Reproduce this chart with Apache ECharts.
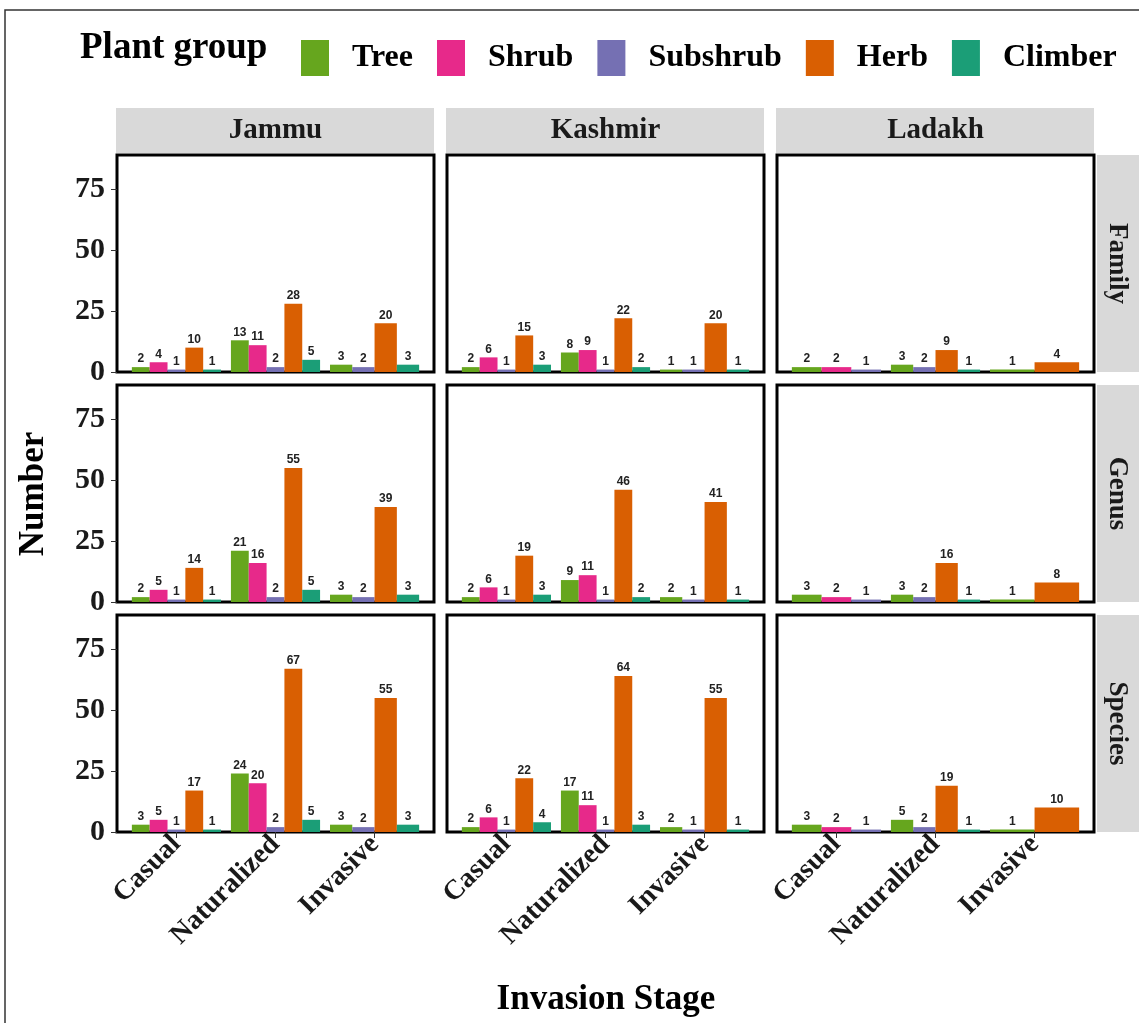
<!DOCTYPE html>
<html>
<head>
<meta charset="utf-8">
<script src="https://cdn.jsdelivr.net/npm/echarts@6/dist/echarts.min.js"></script>
<style>
html,body{margin:0;padding:0;background:#fff;}
#main{width:1139px;height:1023px;}
</style>
</head>
<body>
<div id="main"></div>
<script>
var stages = ['Casual', 'Naturalized', 'Invasive'];
var regions = ['Jammu', 'Kashmir', 'Ladakh'];
var levels = ['Family', 'Genus', 'Species'];
var groups = ['Tree', 'Shrub', 'Subshrub', 'Herb', 'Climber'];
var colors = ['#66A61E', '#E7298A', '#7570B3', '#D95F02', '#1B9E77'];
var yTicks = [0, 25, 50, 75];

// one row per stage (Casual, Naturalized, Invasive), one column per group; null = no bar
var familyJammu   = [[2, 4, 1, 10, 1], [13, 11, 2, 28, 5], [3, null, 2, 20, 3]];
var familyKashmir = [[2, 6, 1, 15, 3], [8, 9, 1, 22, 2], [1, null, 1, 20, 1]];
var familyLadakh  = [[2, 2, 1, null, null], [3, null, 2, 9, 1], [1, null, null, 4, null]];
var genusJammu    = [[2, 5, 1, 14, 1], [21, 16, 2, 55, 5], [3, null, 2, 39, 3]];
var genusKashmir  = [[2, 6, 1, 19, 3], [9, 11, 1, 46, 2], [2, null, 1, 41, 1]];
var genusLadakh   = [[3, 2, 1, null, null], [3, null, 2, 16, 1], [1, null, null, 8, null]];
var speciesJammu  = [[3, 5, 1, 17, 1], [24, 20, 2, 67, 5], [3, null, 2, 55, 3]];
var speciesKashmir= [[2, 6, 1, 22, 4], [17, 11, 1, 64, 3], [2, null, 1, 55, 1]];
var speciesLadakh = [[3, 2, 1, null, null], [5, null, 2, 19, 1], [1, null, null, 10, null]];

var panels = [
    [familyJammu, familyKashmir, familyLadakh],
    [genusJammu, genusKashmir, genusLadakh],
    [speciesJammu, speciesKashmir, speciesLadakh]
];

var serif = "'Liberation Serif', 'DejaVu Serif', serif";
var colLeft = [117, 447, 777];
var rowTop = [155, 385, 615];
var panelW = 317, panelH = 217;

var grids = [], xAxes = [], yAxes = [], series = [], graphics = [];

// outer frame
graphics.push({type: 'rect', shape: {x: 5, y: 10, width: 1150, height: 1030},
    style: {fill: 'none', stroke: '#333', lineWidth: 1.5}});
graphics.push({type: 'text', left: 80, top: 30,
    style: {text: 'Plant group', font: 'bold 37px ' + serif, fill: '#000'}});

function barRender(params, api) {
    var v = api.value(1);
    var top = api.coord([api.value(0), v]);
    var base = api.coord([api.value(0), 0]);
    var w = api.size([api.value(2), 0])[0];
    return {
        type: 'group',
        children: [{
            type: 'rect',
            shape: {x: top[0] - w / 2, y: top[1], width: w, height: base[1] - top[1]},
            style: {fill: api.visual('color')}
        }, {
            type: 'text',
            x: top[0], y: top[1] - 2,
            style: {text: String(v), align: 'center', verticalAlign: 'bottom',
                font: 'bold 12px "Liberation Sans", Arial, sans-serif', fill: '#222'}
        }]
    };
}

for (var r = 0; r < 3; r++) {
    for (var c = 0; c < 3; c++) {
        var idx = r * 3 + c;
        var bottom = (r === 2), left = (c === 0);
        grids.push({left: colLeft[c], top: rowTop[r], width: panelW, height: panelH,
            show: true, borderColor: '#000', borderWidth: 3, backgroundColor: '#fff'});
        xAxes.push({
            type: 'value', gridIndex: idx, min: 0.4, max: 3.6,
            axisLine: {show: false}, splitLine: {show: false},
            axisTick: {show: bottom, customValues: [1, 2, 3], length: 6, lineStyle: {color: '#333'}},
            axisLabel: {show: bottom, customValues: [1, 2, 3], rotate: 45, margin: 8,
                formatter: function (v) { return stages[Math.round(v) - 1]; },
                fontFamily: serif, fontWeight: 'bold', fontSize: 28, color: '#1a1a1a'}
        });
        yAxes.push({
            type: 'value', gridIndex: idx, min: 0, max: 89,
            axisLine: {show: false}, splitLine: {show: false},
            axisTick: {show: left, customValues: yTicks, length: 6, lineStyle: {color: '#333'}},
            axisLabel: {show: left, customValues: yTicks, margin: 12,
                fontFamily: serif, fontWeight: 'bold', fontSize: 30, color: '#1a1a1a'}
        });

        var table = panels[r][c];
        var items = groups.map(function () { return []; });
        for (var s = 0; s < 3; s++) {
            var row = table[s];
            var present = [];
            for (var g = 0; g < groups.length; g++) if (row[g] !== null) present.push(g);
            var n = present.length, bw = 0.9 / n;
            present.forEach(function (g, k) {
                items[g].push([s + 1 + (k - (n - 1) / 2) * bw, row[g], bw]);
            });
        }
        groups.forEach(function (name, g) {
            series.push({
                name: name, type: 'custom', xAxisIndex: idx, yAxisIndex: idx,
                itemStyle: {color: colors[g]},
                renderItem: barRender, data: items[g], clip: false
            });
        });
    }
}

// strips on top and right
regions.forEach(function (name, c) {
    graphics.push({type: 'rect', shape: {x: colLeft[c] - 1, y: 108, width: panelW + 1, height: 45},
        style: {fill: '#d9d9d9'}});
    graphics.push({type: 'text', x: colLeft[c] + panelW / 2, y: 131,
        style: {text: name, align: 'center', verticalAlign: 'middle',
            font: 'bold 29px ' + serif, fill: '#1a1a1a'}});
});
levels.forEach(function (name, r) {
    graphics.push({type: 'rect', shape: {x: 1097, y: rowTop[r], width: 50, height: panelH},
        style: {fill: '#d9d9d9'}});
    graphics.push({type: 'text', x: 1117, y: rowTop[r] + panelH / 2, rotation: -Math.PI / 2,
        style: {text: name, align: 'center', verticalAlign: 'middle',
            font: 'bold 27px ' + serif, fill: '#1a1a1a'}});
});
graphics.push({type: 'text', x: 34, y: 494, rotation: Math.PI / 2,
    style: {text: 'Number', align: 'center', verticalAlign: 'middle',
        font: 'bold 35px ' + serif, fill: '#000'}});
graphics.push({type: 'text', x: 606, y: 1000,
    style: {text: 'Invasion Stage', align: 'center', verticalAlign: 'middle',
        font: 'bold 35px ' + serif, fill: '#000'}});

var chart = echarts.init(document.getElementById('main'));
chart.setOption({
    backgroundColor: '#fff',
    animation: false,
    legend: {
        data: groups, left: 296, top: 35, icon: 'rect',
        itemWidth: 28, itemHeight: 36, itemGap: 24,
        textStyle: {fontFamily: serif, fontWeight: 'bold', fontSize: 32, color: '#000',
            padding: [0, 0, 0, 18]}
    },
    grid: grids,
    xAxis: xAxes,
    yAxis: yAxes,
    series: series,
    graphic: graphics
});
</script>
</body>
</html>
